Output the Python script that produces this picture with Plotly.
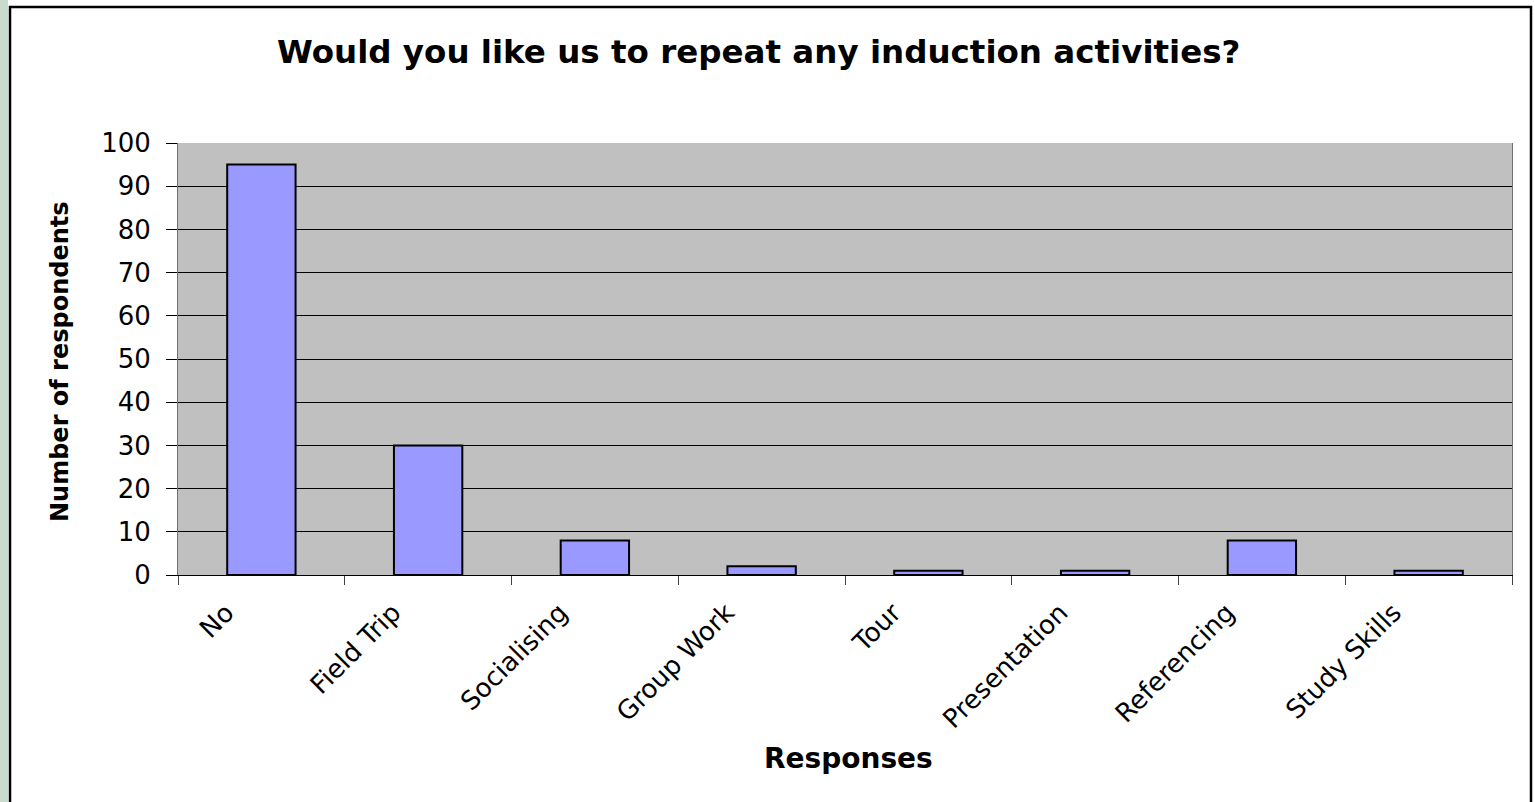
import plotly.graph_objects as go

categories = ["No", "Field Trip", "Socialising", "Group Work", "Tour", "Presentation", "Referencing", "Study Skills"]
values = [95, 30, 8, 2, 1, 1, 8, 1]
y_ticks = [0, 10, 20, 30, 40, 50, 60, 70, 80, 90, 100]

title_text = "Would you like us to repeat any induction activities?"
x_title = "Responses"
y_title = "Number of respondents"

W, H = 1535, 802
L, R, T, B = 178, 1512, 143, 575
pw, ph = R - L, B - T

def px(x):
    return (x - L) / pw

def py(y):
    return (B - y) / ph

FONT = "DejaVu Sans"

fig = go.Figure()
fig.add_trace(go.Bar(
    x=categories, y=values, width=0.41,
    marker=dict(color="#9999FF", line=dict(color="black", width=2)),
    hoverinfo="x+y",
))

fig.update_layout(
    width=W, height=H,
    margin=dict(l=L, r=W - R, t=T, b=H - B, autoexpand=False),
    paper_bgcolor="white",
    plot_bgcolor="#C0C0C0",
    showlegend=False,
    bargap=0.59,
    font=dict(family=FONT, color="black"),
    xaxis=dict(
        type="category", tickson="boundaries", ticks="outside", ticklen=9,
        tickcolor="#404040", tickwidth=1,
        showline=True, linecolor="black", linewidth=1,
        tickangle=-45, tickfont=dict(size=26, family=FONT),
        ticklabelshift=-35, ticklabelstandoff=11,
        showgrid=False, range=[-0.5, 7.5],
    ),
    yaxis=dict(
        range=[0, 100], tickvals=y_ticks, ticks="outside", ticklen=11,
        tickcolor="black", tickwidth=1,
        showline=True, linecolor="#707070", linewidth=1, mirror=True,
        showgrid=True, gridcolor="black", gridwidth=1,
        zeroline=False, ticklabelstandoff=10,
        tickfont=dict(size=26, family=FONT),
    ),
)

# title and axis titles
fig.add_annotation(text="<b>" + title_text + "</b>", xref="paper", yref="paper",
                   x=px(758), y=py(52), xanchor="center", yanchor="middle",
                   showarrow=False, font=dict(size=32.5, family=FONT, color="black"))
fig.add_annotation(text="<b>" + x_title + "</b>", xref="paper", yref="paper",
                   x=px(848), y=py(758), xanchor="center", yanchor="middle",
                   showarrow=False, font=dict(size=28, family=FONT, color="black"))
fig.add_annotation(text="<b>" + y_title + "</b>", xref="paper", yref="paper",
                   x=px(60), y=py(362), xanchor="center", yanchor="middle",
                   textangle=-90, showarrow=False, font=dict(size=24, family=FONT, color="black"))

# left textured strip and chart border
fig.add_shape(type="rect", xref="paper", yref="paper",
              x0=px(-5), x1=px(8), y0=py(820), y1=py(-10),
              fillcolor="#c9dbcd", line=dict(width=0), layer="below")
fig.add_shape(type="rect", xref="paper", yref="paper",
              x0=px(10), x1=px(1531), y0=py(830), y1=py(7),
              fillcolor="rgba(0,0,0,0)", line=dict(color="black", width=2.5))

fig.write_html("out.html")
